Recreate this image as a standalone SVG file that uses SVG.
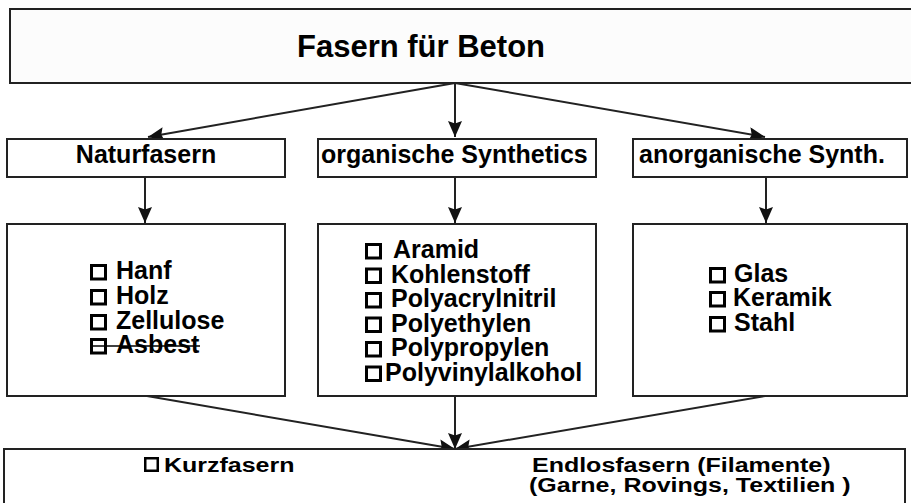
<svg xmlns="http://www.w3.org/2000/svg" width="911" height="503" viewBox="0 0 911 503">
<style>
.box{fill:#ffffff;stroke:#222222;stroke-width:2}
.t{font-family:"Liberation Sans",Arial,sans-serif;font-weight:bold;fill:#000000}
.cb{fill:none;stroke:#000000;stroke-width:3}
.c{stroke:#222222;stroke-width:2;fill:none;marker-end:url(#ah)}
</style>
<defs>
<marker id="ah" markerUnits="userSpaceOnUse" markerWidth="17" markerHeight="15" refX="16" refY="7" orient="auto">
<path d="M0,0 L16,7 L0,14 L2.5,7 z" fill="#111111"/>
</marker>
</defs>
<rect width="911" height="503" fill="#ffffff"/>
<g id="connectors">
<line class="c" x1="455" y1="83" x2="148" y2="137"/>
<line class="c" x1="455" y1="83" x2="455" y2="137"/>
<line class="c" x1="455" y1="83" x2="765" y2="137"/>
<line class="c" x1="145" y1="177" x2="145" y2="223"/>
<line class="c" x1="455" y1="177" x2="455" y2="223"/>
<line class="c" x1="766" y1="177" x2="766" y2="223"/>
<line class="c" x1="147" y1="396" x2="455" y2="449"/>
<line class="c" x1="455" y1="396" x2="455" y2="449"/>
<line class="c" x1="765" y1="396" x2="455" y2="449"/>
</g>
<g id="root">
<rect class="box" x="10" y="9" width="910" height="74" style="fill:#fcfcfc"/>
<text class="t" x="297" y="57" font-size="31">Fasern für Beton</text>
</g>
<g id="naturfasern">
<rect class="box" x="7" y="139" width="278" height="38"/>
<text class="t" x="146" y="163" font-size="25" text-anchor="middle">Naturfasern</text>
</g>
<g id="organische">
<rect class="box" x="318" y="139" width="278" height="38"/>
<text class="t" x="321" y="163" font-size="25">organische Synthetics</text>
</g>
<g id="anorganische">
<rect class="box" x="633" y="139" width="274" height="38"/>
<text class="t" x="639" y="163" font-size="25">anorganische Synth.</text>
</g>
<g id="natur-list">
<rect class="box" x="7" y="224" width="278" height="172"/>
<rect class="cb" x="91.5" y="265.5" width="14" height="13.5"/>
<rect class="cb" x="91.5" y="290.5" width="14" height="13.5"/>
<rect class="cb" x="91.5" y="315.5" width="14" height="13.5"/>
<rect class="cb" x="91.5" y="339.5" width="14" height="13.5"/>
<text class="t" font-size="25"><tspan x="116" y="279">Hanf</tspan><tspan x="116" y="304">Holz</tspan><tspan x="116" y="329">Zellulose</tspan><tspan x="116" y="353">Asbest</tspan></text>
<line x1="90" y1="346" x2="200" y2="346" stroke="#000000" stroke-width="1.5"/>
</g>
<g id="organisch-list">
<rect class="box" x="318" y="224" width="278" height="172"/>
<rect class="cb" x="366.5" y="244.5" width="14" height="13.5"/>
<rect class="cb" x="366.5" y="269" width="14" height="13.5"/>
<rect class="cb" x="366.5" y="293.5" width="14" height="13.5"/>
<rect class="cb" x="366.5" y="318" width="14" height="13.5"/>
<rect class="cb" x="366.5" y="342.5" width="14" height="13.5"/>
<rect class="cb" x="366.5" y="367" width="14" height="13.5"/>
<text class="t" font-size="25"><tspan x="393" y="258">Aramid</tspan><tspan x="391" y="282.5">Kohlenstoff</tspan><tspan x="391" y="307">Polyacrylnitril</tspan><tspan x="391" y="331.5">Polyethylen</tspan><tspan x="391" y="356">Polypropylen</tspan><tspan x="385" y="380.5">Polyvinylalkohol</tspan></text>
</g>
<g id="anorganisch-list">
<rect class="box" x="633" y="224" width="274" height="172"/>
<rect class="cb" x="710.5" y="268.5" width="14" height="13.5"/>
<rect class="cb" x="710.5" y="292.5" width="14" height="13.5"/>
<rect class="cb" x="710.5" y="317.5" width="14" height="13.5"/>
<text class="t" font-size="25"><tspan x="734" y="282">Glas</tspan><tspan x="733" y="306">Keramik</tspan><tspan x="734" y="331">Stahl</tspan></text>
</g>
<g id="formen">
<rect class="box" x="4" y="449" width="901" height="70"/>
<rect x="145.25" y="458.25" width="12.5" height="12.5" fill="none" stroke="#000000" stroke-width="2.5"/>
<g transform="translate(0,472) scale(1,0.8)">
<text class="t" x="164" y="0" font-size="25">Kurzfasern</text>
<text class="t" x="532" y="0" font-size="25">Endlosfasern (Filamente)</text>
<text class="t" x="529" y="25" font-size="25">(Garne, Rovings, Textilien )</text>
</g>
</g>
</svg>
